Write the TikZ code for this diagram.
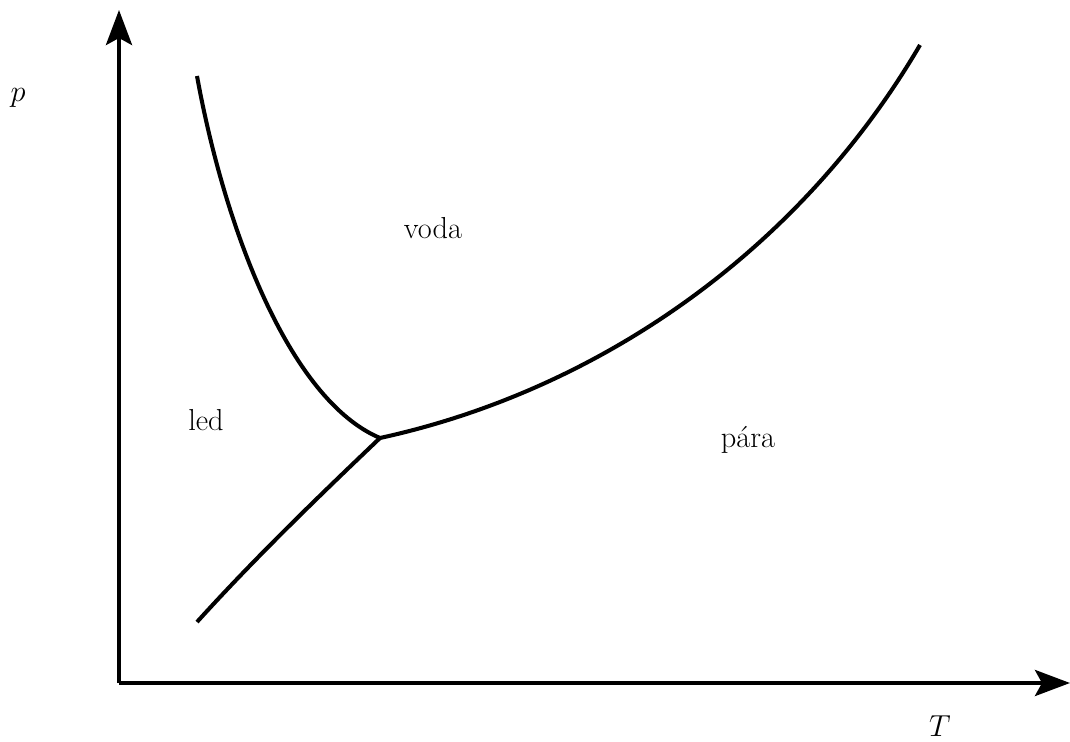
\documentclass[tikz,border=0pt]{standalone}
\usetikzlibrary{arrows.meta, positioning, calc}
\tikzset{
  axis/.style={-{Stealth[length=0.7cm, width=0.52cm, inset=0.14cm]}, line width=2.4pt},
  curve/.style={line width=2.3pt},
  lbl/.style={font=\LARGE},
}

\begin{document}
\begin{tikzpicture}[x=0.02cm, y=-0.02cm]
    \useasboundingbox (0,0) rectangle (1070,742);
    \coordinate (O) at (119,683);
    \coordinate (ytop) at (119,10);
    \coordinate (xend) at (1070,683);
    \coordinate (tp) at (380,438);
    \coordinate (fus) at (197,76);
    \coordinate (sub) at (197,622);
    \coordinate (vap) at (920,45);
    \draw[axis] (O) -- (ytop);
    \draw[axis] (O) -- (xend);
    % phase boundaries
    \draw[curve] (fus) .. controls (225,230) and (290,400) .. (tp);
    \draw[curve] (sub) .. controls (255,558) and (318,497) .. (tp);
    \draw[curve] (tp) .. controls (600,390) and (800,250) .. (vap);
    \node[lbl] (p) at (18,98) {$p$};
    \node[lbl] (T) at (940,726) {$T$};
    \node[lbl] (voda) at (433,228) {voda};
    \node[lbl] (led) at (206,420) {led};
    \node[lbl] (para) at (748,440) {pára};
\end{tikzpicture}
\end{document}
